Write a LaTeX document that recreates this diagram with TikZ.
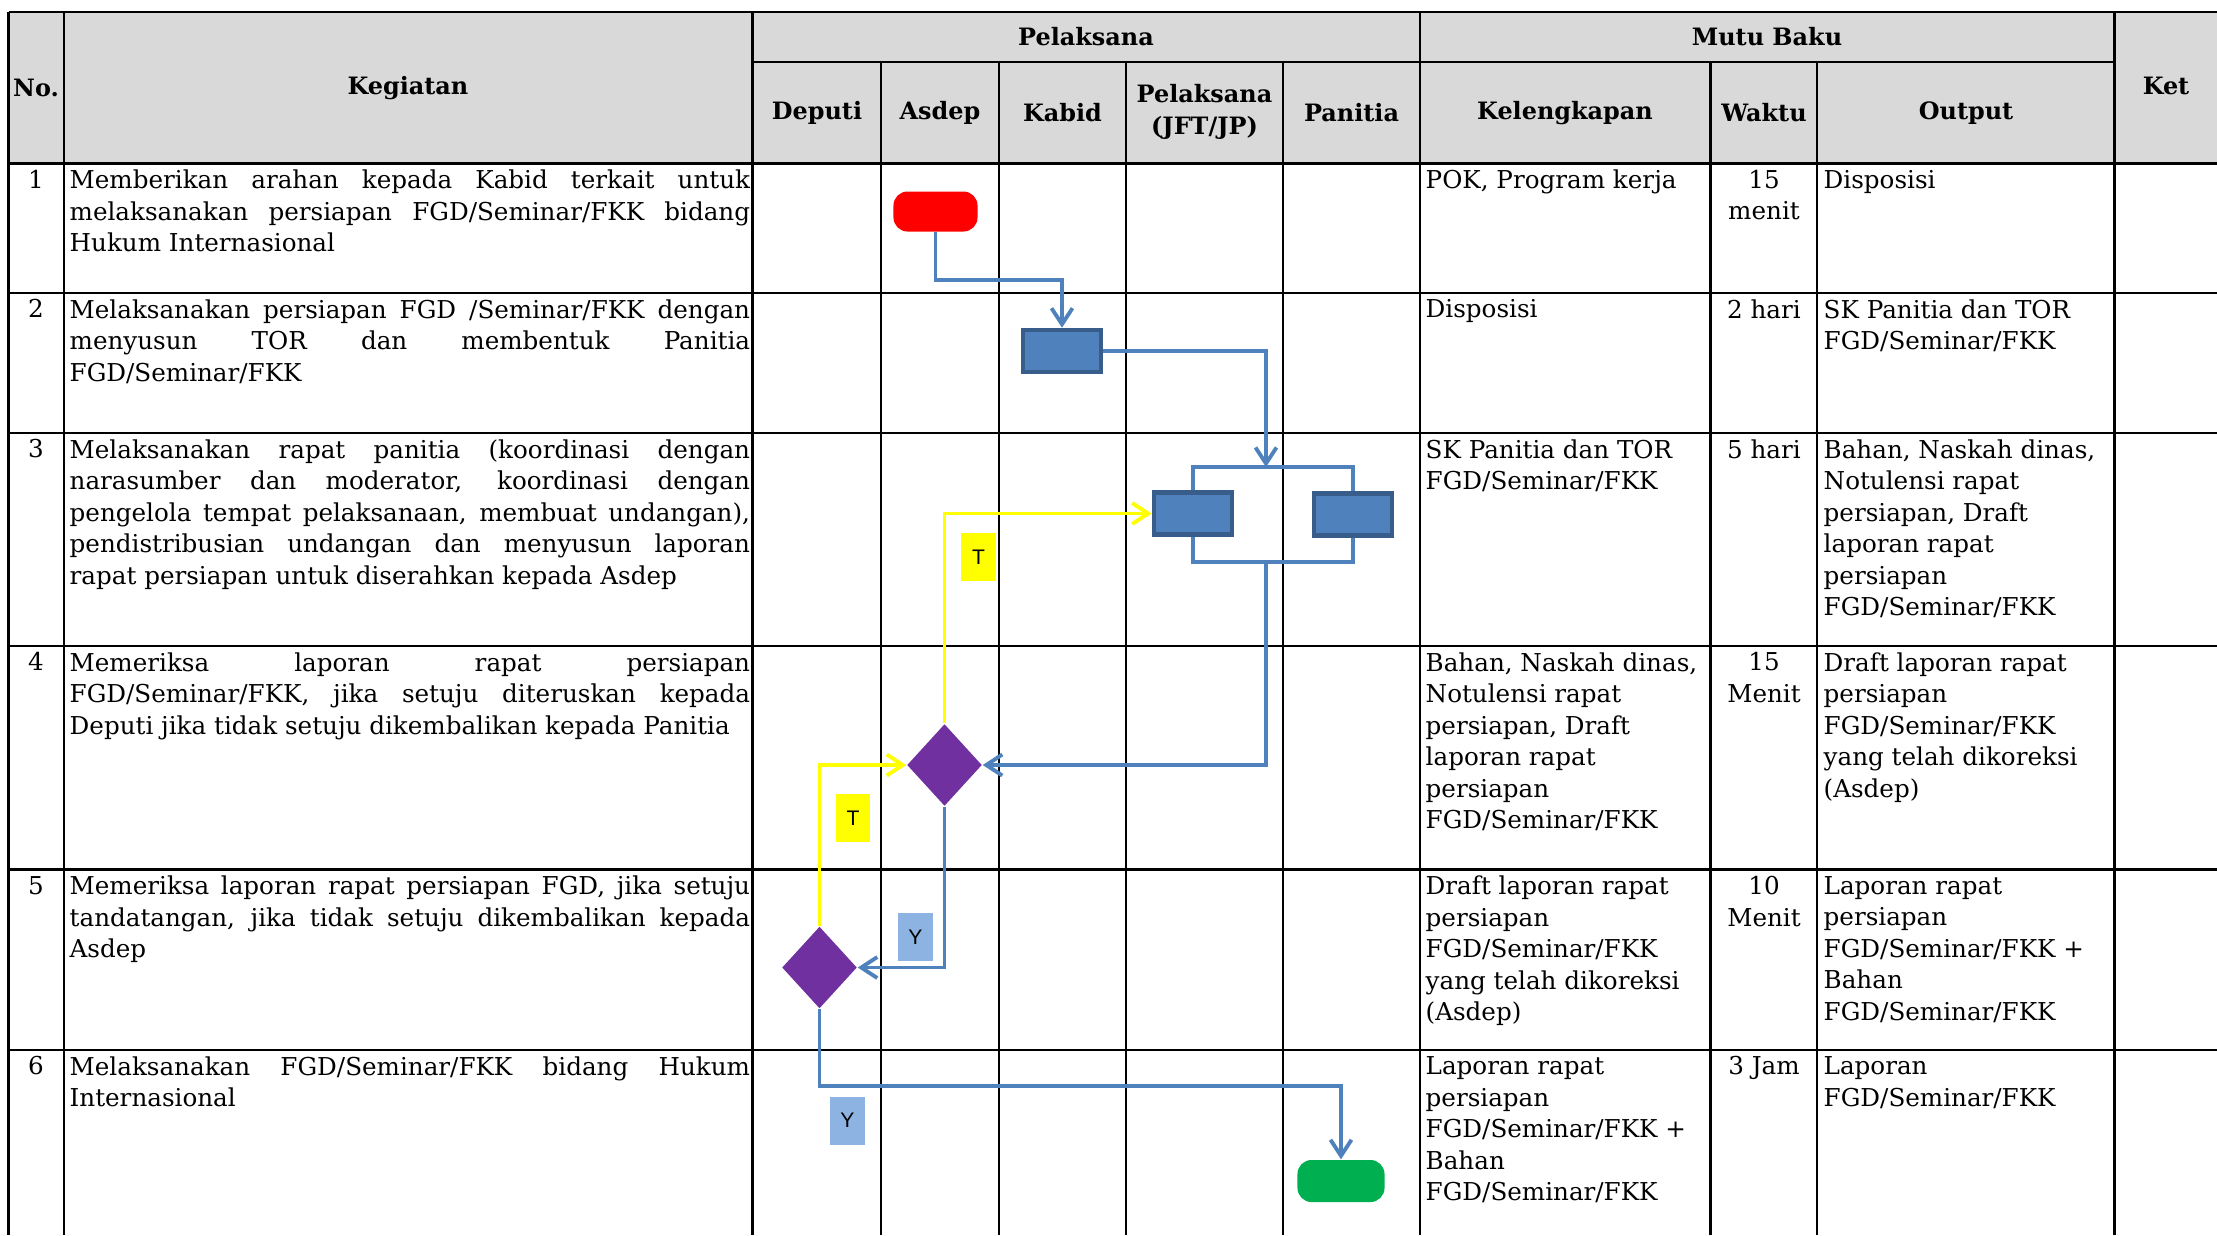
\documentclass[tikz,border=0pt]{standalone}
\usepackage{fontspec}
\setmainfont{DejaVu Serif}
\newfontfamily\labelfont{Liberation Sans}
\usetikzlibrary{shapes.geometric,arrows.meta}
\definecolor{headgray}{HTML}{D9D9D9}
\definecolor{flowblue}{HTML}{4F81BD}
\definecolor{boxline}{HTML}{385D8A}
\definecolor{decision}{HTML}{7030A0}
\definecolor{startred}{HTML}{FF0000}
\definecolor{endgreen}{HTML}{00B050}
\definecolor{flowyellow}{HTML}{FFFF00}
\definecolor{yesblue}{HTML}{8DB3E2}
\pretolerance=10000
\tolerance=10000
\hbadness=10000
\hyphenpenalty=10000

\begin{document}
\begin{tikzpicture}
[x=0.01cm, y=-0.01cm,
grid/.style={line width=0.7pt, draw=black},
head/.style={inner sep=0pt, align=center, font=\fontsize{6.8}{8.96}\selectfont\bfseries},
cell/.style={anchor=north west, inner sep=0pt, align=left, font=\fontsize{7}{8.96}\selectfont},
kegiatan/.style={cell, text width=6.8cm, align=justify},
num/.style={cell, anchor=north, align=center},
waktu/.style={cell, anchor=north, align=center},
terminal/.style={rectangle, rounded corners=1.4mm, minimum width=8.4mm, minimum height=4mm, inner sep=0pt},
process/.style={rectangle, fill=flowblue, draw=boxline, line width=1.3pt, minimum width=7.8mm, minimum height=4.2mm, inner sep=0pt},
decide/.style={diamond, fill=decision, minimum width=7.5mm, minimum height=8.2mm, inner sep=0pt},
answer/.style={rectangle, minimum width=3.4mm, minimum height=4.8mm, inner sep=0pt, font=\fontsize{6}{7}\selectfont\labelfont},
flow/.style={draw=flowblue, line width=1.1pt},
connect/.style={flow, -{Straight Barb[length=1.6mm, width=2.1mm]}},
back/.style={draw=flowyellow, line width=1.1pt, -{Straight Barb[length=1.6mm, width=2.1mm]}}]
\useasboundingbox (0,0) rectangle (2217,1235);
\fill[headgray] (8.5,12) rectangle (2217,163.5);

\draw[grid] (8.5,12) -- (2217,12);
\draw[grid] (752.5,62) -- (2114.5,62);
\draw[grid] (8.5,163.5) -- (2217,163.5);
\draw[grid] (8.5,293) -- (2217,293);
\draw[grid] (8.5,433) -- (2217,433);
\draw[grid] (8.5,646) -- (2217,646);
\draw[grid] (8.5,869.5) -- (2217,869.5);
\draw[grid] (8.5,1050) -- (2217,1050);
\draw[grid] (8.5,12) -- (8.5,1235);
\draw[grid] (64,12) -- (64,1235);
\draw[grid] (752.5,12) -- (752.5,1235);
\draw[grid] (881,62) -- (881,1235);
\draw[grid] (999,62) -- (999,1235);
\draw[grid] (1126,62) -- (1126,1235);
\draw[grid] (1283,62) -- (1283,1235);
\draw[grid] (1420,12) -- (1420,1235);
\draw[grid] (1710.5,62) -- (1710.5,1235);
\draw[grid] (1817,62) -- (1817,1235);
\draw[grid] (2114.5,12) -- (2114.5,1235);

\node[head]	(hno) at (36, 88) {No.};
\node[head]	(hkegiatan) at (408, 88) {Kegiatan};
\node[head]	(hpelaksana) at (1086, 37) {Pelaksana};
\node[head]	(hmutu) at (1767, 37) {Mutu Baku};
\node[head]	(hket) at (2166, 86) {Ket};
\node[head]	(hdeputi) at (817, 113) {Deputi};
\node[head]	(hasdep) at (940, 113) {Asdep};
\node[head]	(hkabid) at (1062.5, 113) {Kabid};
\node[head]	(hjft) at (1204.5, 112) {Pelaksana\\(JFT/JP)};
\node[head]	(hpanitia) at (1351.5, 113) {Panitia};
\node[head]	(hkelengkapan) at (1565, 113) {Kelengkapan};
\node[head]	(hwaktu) at (1764, 113) {Waktu};
\node[head]	(houtput) at (1966, 113) {Output};

\node[num]	(no1) at (36, 169.5) {1};
\node[kegiatan]	(keg1) at (69, 169.5) {Memberikan arahan kepada Kabid terkait untuk\linebreak melaksanakan persiapan FGD/Seminar/FKK bidang\linebreak Hukum Internasional};
\node[cell]	(kel1) at (1425, 169.5) {POK, Program kerja};
\node[waktu]	(wkt1) at (1764, 169.5) {15\\menit};
\node[cell]	(out1) at (1823, 169.5) {Disposisi};

\node[num]	(no2) at (36, 299) {2};
\node[kegiatan]	(keg2) at (69, 299) {Melaksanakan persiapan FGD /Seminar/FKK dengan\linebreak menyusun TOR dan membentuk Panitia\linebreak FGD/Seminar/FKK};
\node[cell]	(kel2) at (1425, 299) {Disposisi};
\node[waktu]	(wkt2) at (1764, 299) {2 hari};
\node[cell]	(out2) at (1823, 299) {SK Panitia dan TOR\\FGD/Seminar/FKK};

\node[num]	(no3) at (36, 439) {3};
\node[kegiatan]	(keg3) at (69, 439) {Melaksanakan rapat panitia (koordinasi dengan\linebreak narasumber dan moderator, koordinasi dengan\linebreak pengelola tempat pelaksanaan, membuat undangan),\linebreak pendistribusian undangan dan menyusun laporan\linebreak rapat persiapan untuk diserahkan kepada Asdep};
\node[cell]	(kel3) at (1425, 439) {SK Panitia dan TOR\\FGD/Seminar/FKK};
\node[waktu]	(wkt3) at (1764, 439) {5 hari};
\node[cell]	(out3) at (1823, 439) {Bahan, Naskah dinas,\\Notulensi rapat\\persiapan, Draft\\laporan rapat\\persiapan\\FGD/Seminar/FKK};

\node[num]	(no4) at (36, 652) {4};
\node[kegiatan]	(keg4) at (69, 652) {Memeriksa laporan rapat persiapan\linebreak FGD/Seminar/FKK, jika setuju diteruskan kepada\linebreak Deputi jika tidak setuju dikembalikan kepada Panitia};
\node[cell]	(kel4) at (1425, 652) {Bahan, Naskah dinas,\\Notulensi rapat\\persiapan, Draft\\laporan rapat\\persiapan\\FGD/Seminar/FKK};
\node[waktu]	(wkt4) at (1764, 652) {15\\Menit};
\node[cell]	(out4) at (1823, 652) {Draft laporan rapat\\persiapan\\FGD/Seminar/FKK\\yang telah dikoreksi\\(Asdep)};

\node[num]	(no5) at (36, 875.5) {5};
\node[kegiatan]	(keg5) at (69, 875.5) {Memeriksa laporan rapat persiapan FGD, jika setuju\linebreak tandatangan, jika tidak setuju dikembalikan kepada\linebreak Asdep};
\node[cell]	(kel5) at (1425, 875.5) {Draft laporan rapat\\persiapan\\FGD/Seminar/FKK\\yang telah dikoreksi\\(Asdep)};
\node[waktu]	(wkt5) at (1764, 875.5) {10\\Menit};
\node[cell]	(out5) at (1823, 875.5) {Laporan rapat\\persiapan\\FGD/Seminar/FKK +\\Bahan\\FGD/Seminar/FKK};

\node[num]	(no6) at (36, 1056) {6};
\node[kegiatan]	(keg6) at (69, 1056) {Melaksanakan FGD/Seminar/FKK bidang Hukum\linebreak Internasional};
\node[cell]	(kel6) at (1425, 1056) {Laporan rapat\\persiapan\\FGD/Seminar/FKK +\\Bahan\\FGD/Seminar/FKK};
\node[waktu]	(wkt6) at (1764, 1056) {3 Jam};
\node[cell]	(out6) at (1823, 1056) {Laporan\\FGD/Seminar/FKK};

\node[terminal, fill=startred]	(start) at (935.5, 211.5) {};
\node[process]	(prep) at (1062, 351) {};
\node[process]	(rapatA) at (1193, 513.5) {};
\node[process]	(rapatB) at (1353, 514.5) {};
\node[decide]	(cekAsdep) at (944.5, 765) {};
\node[decide]	(cekDeputi) at (819.5, 967.5) {};
\node[terminal, fill=endgreen, minimum width=8.7mm, minimum height=4.2mm]	(finish) at (1341, 1181) {};
\coordinate (fork) at (1266, 467);
\coordinate (join) at (1266, 562);

\node[answer, fill=flowyellow]	(tidak1) at (978.5, 557) {T};
\node[answer, fill=flowyellow]	(tidak2) at (853, 818) {T};
\node[answer, fill=yesblue]	(ya1) at (915.5, 937) {Y};
\node[answer, fill=yesblue]	(ya2) at (847.5, 1120.5) {Y};

\draw[connect] (start.south) -- ++(0,48) -| (prep.north);
\draw[connect] (prep.east) -| (fork);
\draw[flow] (rapatA.north) |- (fork) -| (rapatB.north);
\draw[flow] (rapatA.south) |- (join) -| (rapatB.south);
\draw[connect] (join) |- (cekAsdep.east);
\draw[connect] (cekAsdep.south) |- (cekDeputi.east);
\draw[connect] (cekDeputi.south) -- ++(0,77) -| (finish.north);
\draw[back] (cekAsdep.north) |- (rapatA.west);
\draw[back] (cekDeputi.north) |- (cekAsdep.west);

\end{tikzpicture}
\end{document}
